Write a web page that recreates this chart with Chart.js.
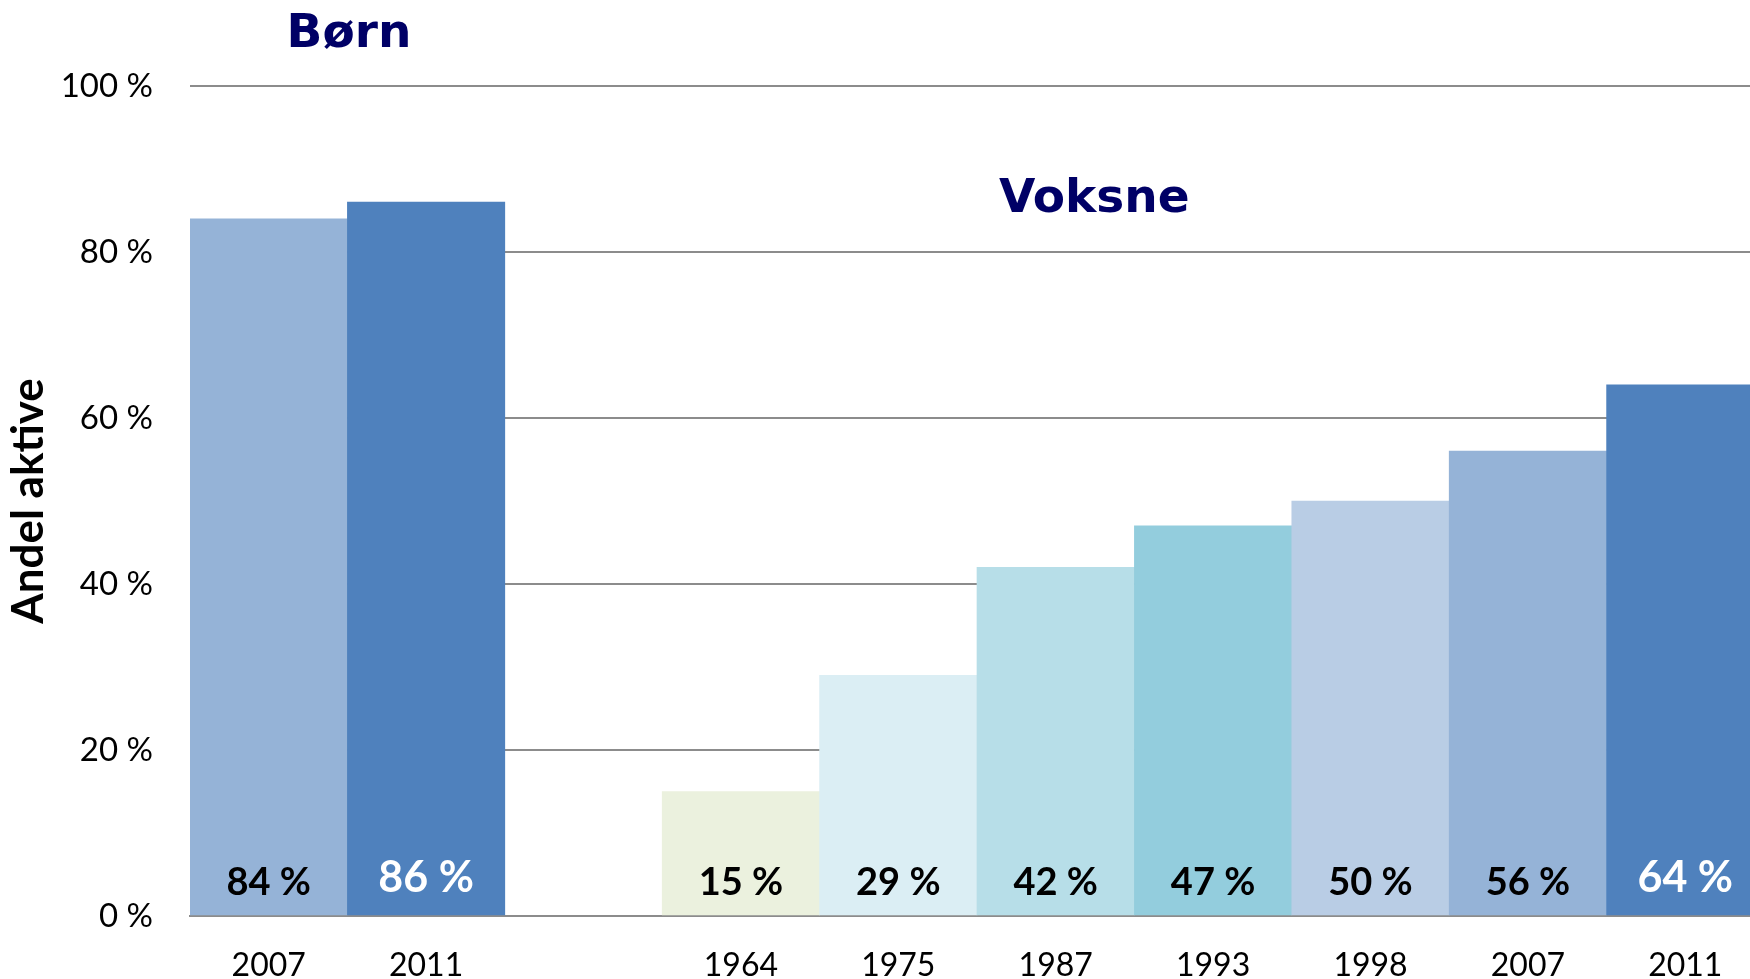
<!DOCTYPE html>
<html>
<head>
<meta charset="utf-8">
<script src="https://cdn.jsdelivr.net/npm/chart.js@4"></script>
<style>
  html, body { margin: 0; padding: 0; background: #fff; overflow: hidden; }
  #wrap { width: 1750px; height: 979px; overflow: hidden; }
</style>
</head>
<body>
<div id="wrap"><canvas id="chart" width="1764" height="979"></canvas></div>
<script>
// data
const categories = ['2007', '2011', '', '1964', '1975', '1987', '1993', '1998', '2007', '2011'];
const values = [84, 86, null, 15, 29, 42, 47, 50, 56, 64];
const yTicks = [0, 20, 40, 60, 80, 100];
const groupTitles = ['Børn', 'Voksne'];
const yTitle = 'Andel aktive';

// styles
const barColors = ['#95B3D7', '#4F81BD', '#ffffff', '#EBF1DE', '#DBEEF4', '#B7DEE8', '#93CDDD', '#B9CDE5', '#95B3D7', '#4F81BD'];
const whiteLabel = [false, true, false, false, false, false, false, false, false, true];
const tickFont = '"Lato", "Open Sans", sans-serif';

// value labels near the bottom of each bar
const barLabels = {
    id: 'barLabels',
    afterDatasetsDraw(chart) {
        const ctx = chart.ctx;
        const meta = chart.getDatasetMeta(0);
        const yScale = chart.scales.y;
        ctx.save();
        ctx.textAlign = 'center';
        ctx.textBaseline = 'middle';
        meta.data.forEach((bar, i) => {
            const v = values[i];
            if (v === null) return;
            if (whiteLabel[i]) {
                ctx.fillStyle = '#ffffff';
                ctx.font = 'bold 43px ' + tickFont;
                ctx.fillText(v + ' %', bar.x, yScale.getPixelForValue(0) - 38);
            } else {
                ctx.fillStyle = '#000000';
                ctx.font = 'bold 38px ' + tickFont;
                ctx.fillText(v + ' %', bar.x, yScale.getPixelForValue(0) - 33);
            }
        });
        ctx.restore();
    }
};

// group titles
const groupHeads = {
    id: 'groupHeads',
    afterDraw(chart) {
        const ctx = chart.ctx;
        const x = chart.scales.x;
        const w = (x.right - x.left) / categories.length;
        ctx.save();
        ctx.fillStyle = '#000066';
        ctx.font = 'bold 47px "DejaVu Sans", Verdana, sans-serif';
        ctx.textAlign = 'center';
        ctx.textBaseline = 'middle';
        ctx.fillText(groupTitles[0], x.left + 1.01 * w, 35);
        ctx.fillText(groupTitles[1], x.left + 5.745 * w, 200);
        ctx.restore();
    }
};

const ctx = document.getElementById('chart').getContext('2d');
const myChart = new Chart(ctx, {
    type: 'bar',
    data: {
        labels: categories,
        datasets: [{
            data: values,
            backgroundColor: barColors,
            borderWidth: 0,
            barPercentage: 1.0,
            categoryPercentage: 1.0
        }]
    },
    options: {
        responsive: false,
        animation: false,
        devicePixelRatio: 1,
        layout: { padding: { top: 86, right: 0, bottom: 0, left: 0 } },
        plugins: {
            legend: { display: false },
            tooltip: { enabled: false }
        },
        scales: {
            x: {
                grid: { display: false, drawTicks: false },
                border: { display: true, color: '#8c8c8c', width: 2 },
                ticks: {
                    color: '#000',
                    font: { family: tickFont, size: 32 },
                    padding: 30,
                    maxRotation: 0,
                    autoSkip: false
                },
                afterFit(scale) { scale.height = 63; }
            },
            y: {
                min: 0,
                max: 100,
                afterBuildTicks(scale) {
                    scale.ticks = yTicks.map(v => ({ value: v }));
                },
                grid: { color: '#8c8c8c', lineWidth: 2, drawTicks: false },
                border: { display: false },
                ticks: {
                    color: '#000',
                    font: { family: tickFont, size: 33 },
                    padding: 37,
                    callback: v => v + ' %'
                },
                title: {
                    display: true,
                    text: yTitle,
                    color: '#000',
                    font: { family: tickFont, size: 44, weight: 'bold' },
                    padding: { top: 2, bottom: 0 }
                },
                afterFit(scale) { scale.width = 190; }
            }
        }
    },
    plugins: [barLabels, groupHeads]
});
</script>
</body>
</html>
